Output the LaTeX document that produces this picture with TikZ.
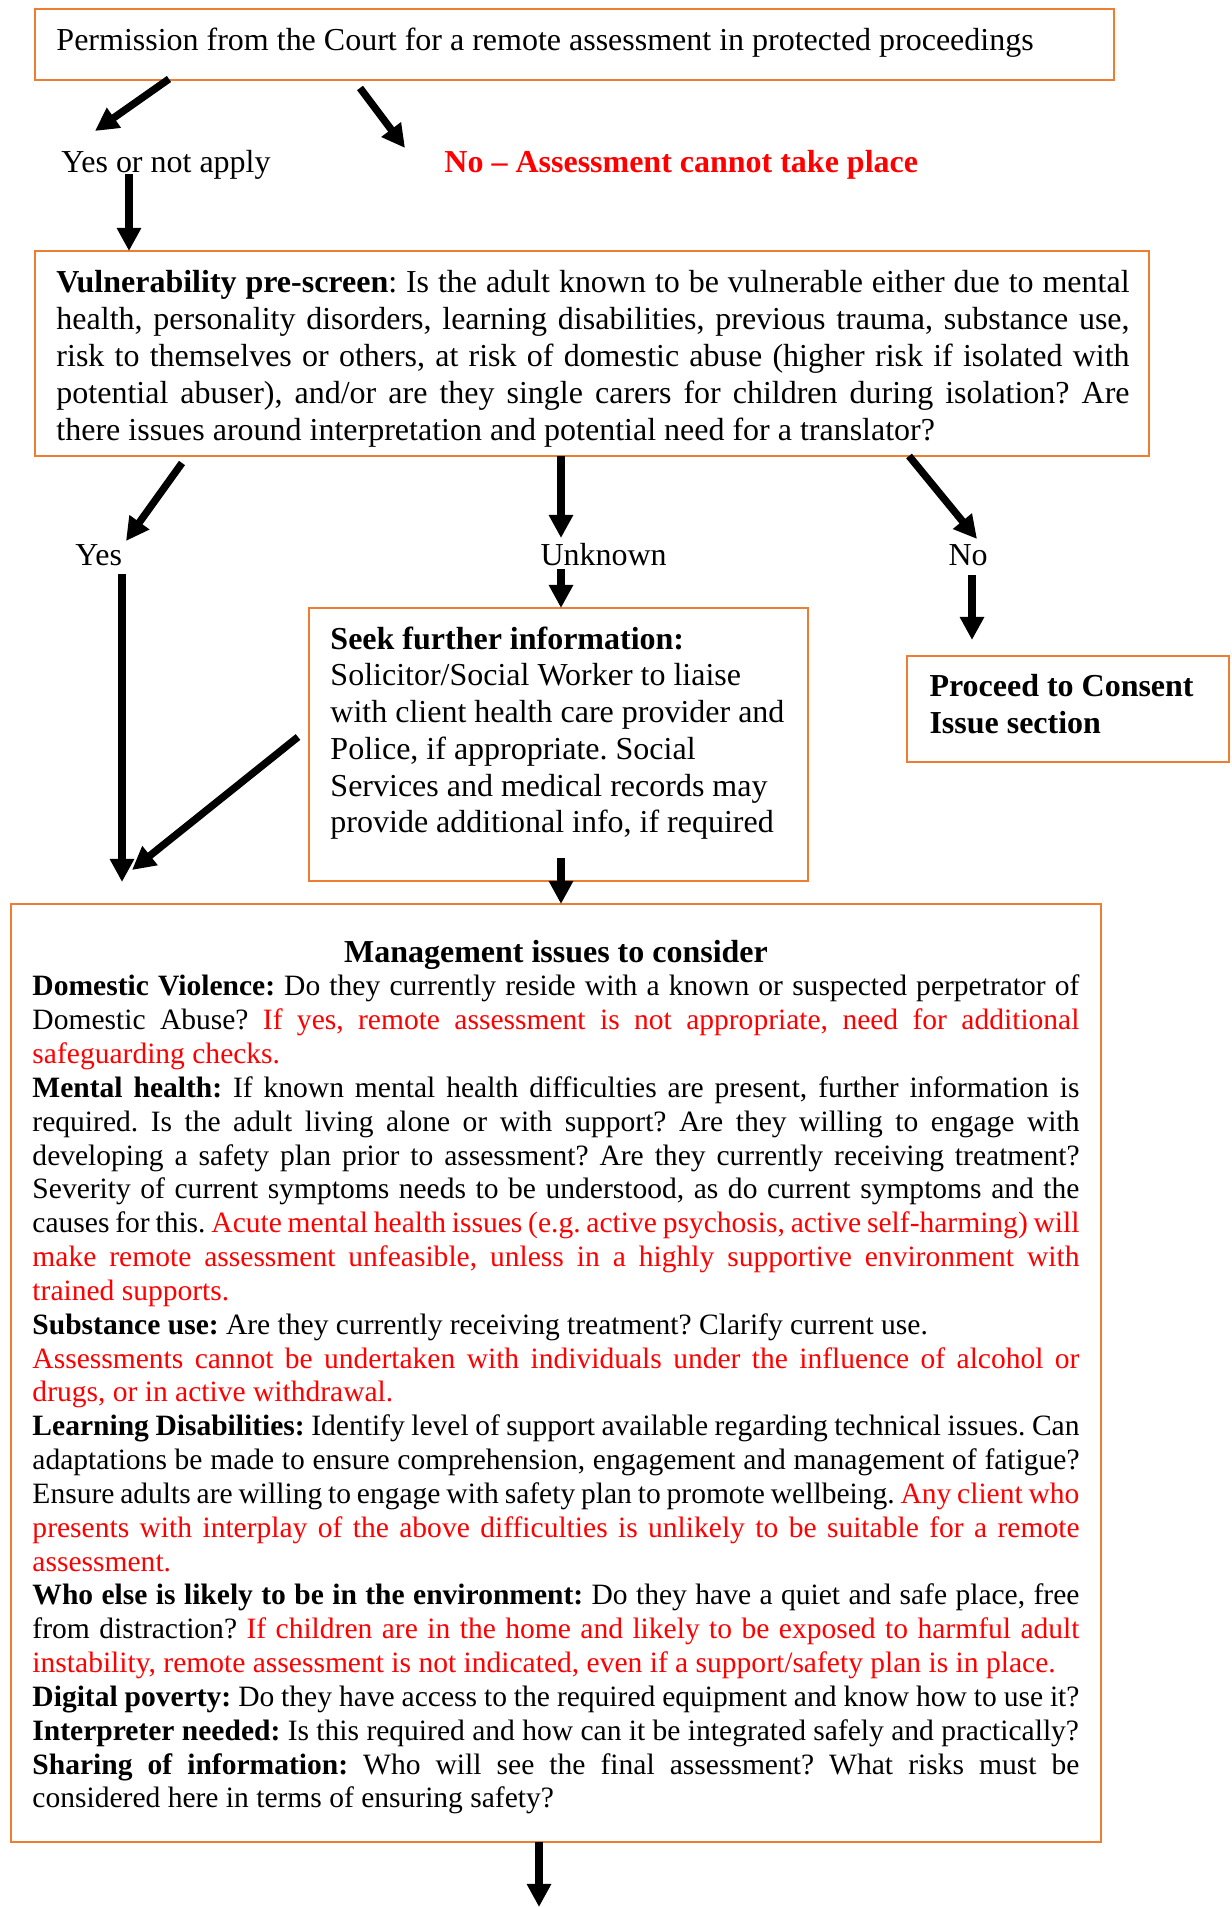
\documentclass[tikz,border=0pt]{standalone}
\usepackage{fontspec}
\setmainfont{Liberation Serif}
\usetikzlibrary{arrows.meta,fit}
\definecolor{boxorange}{HTML}{ED7D31}
\definecolor{alertred}{RGB}{255,0,0}
\newcommand\jline[1]{\hbox to\hsize{#1}}
\newcommand\nline[1]{\hbox{#1}}
\newcommand\rd[1]{{\color{alertred}#1}}
\begin{document}
\frenchspacing
\begin{tikzpicture}[x=0.4064pt,y=-0.4064pt,
  box/.style={draw=boxorange,line width=0.9pt,inner sep=0pt},
  txt/.style={anchor=base west,inner sep=0pt,font=\fontsize{13}{14.95}\selectfont\frenchspacing},
  arr/.style={line width=3pt,-{Triangle[length=9.4pt,width=9.4pt]}}]
\useasboundingbox (0,0) rectangle (1231,1907);
% box corners
\coordinate (tA) at (35,9);   \coordinate (tB) at (1114,80);
\coordinate (vA) at (35,251); \coordinate (vB) at (1149,456);
\coordinate (sA) at (309,608); \coordinate (sB) at (808,881);
\coordinate (pA) at (907,656); \coordinate (pB) at (1229,762);
\coordinate (mA) at (11,904); \coordinate (mB) at (1101,1842);
\node[box,fit=(tA)(tB)] (topbox) {};
\node[box,fit=(vA)(vB)] (vulnbox) {};
\node[box,fit=(sA)(sB)] (seekbox) {};
\node[box,fit=(pA)(pB)] (procbox) {};
\node[box,fit=(mA)(mB)] (mgmtbox) {};
% texts
\node[txt] (toptext) at (56,51) {Permission from the Court for a remote assessment in protected proceedings};
\node[txt] (yesna) at (61,173) {Yes or not apply};
\node[txt] (nocannot) at (444,173) {\bfseries\color{alertred}No – Assessment cannot take place};
\node[txt] (vulntext) at (56,293) {\vtop{\hsize=436.1pt\baselineskip=14.94pt
\jline{\textbf{Vulnerability pre-screen}: Is the adult known to be vulnerable either due to mental}
\jline{health, personality disorders, learning disabilities, previous trauma, substance use,}
\jline{risk to themselves or others, at risk of domestic abuse (higher risk if isolated with}
\jline{potential abuser), and/or are they single carers for children during isolation? Are}
\nline{there issues around interpretation and potential need for a translator?}}};
\node[txt] (yeslbl) at (75,566) {Yes};
\node[txt] (unklbl) at (540,566) {Unknown};
\node[txt] (nolbl) at (948,566) {No};
\node[txt] (seektext) at (330,649) {\vtop{\hsize=200pt\baselineskip=14.95pt
\nline{\textbf{Seek further information:}}
\nline{Solicitor/Social Worker to liaise}
\nline{with client health care provider and}
\nline{Police, if appropriate. Social}
\nline{Services and medical records may}
\nline{provide additional info, if required}}};
\node[txt] (proctext) at (929,696) {\vtop{\hsize=120pt\baselineskip=15.2pt\bfseries
\nline{Proceed to Consent}
\nline{Issue section}}};
\node[txt] (mgmttext) at (32,962) {\vtop{\hsize=425.5pt\fontsize{12}{13.8}\selectfont\baselineskip=13.75pt
\jline{\hfil\fontsize{13}{14.95}\selectfont\textbf{Management issues to consider}\hfil}
\jline{\textbf{Domestic Violence:} Do they currently reside with a known or suspected perpetrator of}
\jline{Domestic Abuse? \rd{If yes, remote assessment is not appropriate, need for additional}}
\nline{\rd{safeguarding checks.}}
\jline{\textbf{Mental health:} If known mental health difficulties are present, further information is}
\jline{required. Is the adult living alone or with support? Are they willing to engage with}
\jline{developing a safety plan prior to assessment? Are they currently receiving treatment?}
\jline{Severity of current symptoms needs to be understood, as do current symptoms and the}
\jline{causes for this. \rd{Acute mental health issues (e.g. active psychosis, active self-harming) will}}
\jline{\rd{make remote assessment unfeasible, unless in a highly supportive environment with}}
\nline{\rd{trained supports.}}
\nline{\textbf{Substance use:} Are they currently receiving treatment? Clarify current use.}
\jline{\rd{Assessments cannot be undertaken with individuals under the influence of alcohol or}}
\nline{\rd{drugs, or in active withdrawal.}}
\jline{\textbf{Learning Disabilities:} Identify level of support available regarding technical issues. Can}
\jline{adaptations be made to ensure comprehension, engagement and management of fatigue?}
\jline{Ensure adults are willing to engage with safety plan to promote wellbeing. \rd{Any client who}}
\jline{\rd{presents with interplay of the above difficulties is unlikely to be suitable for a remote}}
\nline{\rd{assessment.}}
\jline{\textbf{Who else is likely to be in the environment:} Do they have a quiet and safe place, free}
\jline{from distraction? \rd{If children are in the home and likely to be exposed to harmful adult}}
\nline{\rd{instability, remote assessment is not indicated, even if a support/safety plan is in place.}}
\jline{\textbf{Digital poverty:} Do they have access to the required equipment and know how to use it?}
\nline{\textbf{Interpreter needed:} Is this required and how can it be integrated safely and practically?}
\jline{\textbf{Sharing of information:} Who will see the final assessment? What risks must be}
\nline{considered here in terms of ensuring safety?}}};
% connector end points
\coordinate (a1s) at (169,79);  \coordinate (a1e) at (95,131);
\coordinate (a2s) at (360,88);  \coordinate (a2e) at (405,148);
\coordinate (a3s) at (129,174); \coordinate (a3e) at (129,251);
\coordinate (a4s) at (182,463); \coordinate (a4e) at (126,541);
\coordinate (a5s) at (561,456); \coordinate (a5e) at (561,538);
\coordinate (a6s) at (909,456); \coordinate (a6e) at (977,539);
\coordinate (a7s) at (122,574); \coordinate (a7e) at (122,882);
\coordinate (a8s) at (561,569); \coordinate (a8e) at (561,608);
\coordinate (a9s) at (972,575); \coordinate (a9e) at (972,640);
\coordinate (a10s) at (298,737); \coordinate (a10e) at (132,870);
\coordinate (a11s) at (561,858); \coordinate (a11e) at (561,904);
\coordinate (a12s) at (539,1842); \coordinate (a12e) at (539,1907);
\foreach \i in {1,...,12}{\draw[arr] (a\i s) -- (a\i e);}
\end{tikzpicture}
\end{document}
